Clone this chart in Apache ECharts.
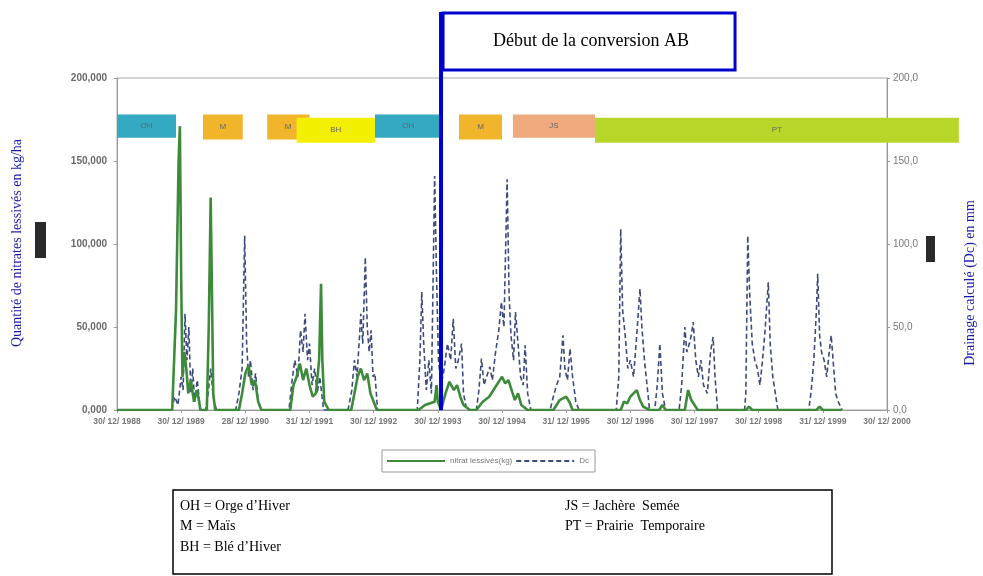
<!DOCTYPE html>
<html><head><meta charset="utf-8">
<script src="https://cdn.jsdelivr.net/npm/echarts@6/dist/echarts.min.js"></script>
<style>html,body{margin:0;padding:0;background:#fff}#c{width:983px;height:576px}</style>
</head><body><div id="c"></div>
<script>
// ---- data ----
const tickLabels = ["30/ 12/ 1988","30/ 12/ 1989","28/ 12/ 1990","31/ 12/ 1991","30/ 12/ 1992","30/ 12/ 1993","30/ 12/ 1994","31/ 12/ 1995","30/ 12/ 1996","30/ 12/ 1997","30/ 12/ 1998","31/ 12/ 1999","30/ 12/ 2000"];
// t = years since 30/12/1988, value in kg/ha
const nitrate = [[0,0],[0.86,0],[0.92,60],[0.96,150],[0.98,171],[1.0,80],[1.02,20],[1.05,35],[1.08,25],[1.11,10],[1.15,18],[1.2,5],[1.25,12],[1.3,0],[1.4,0],[1.43,50],[1.46,128],[1.48,70],[1.5,10],[1.53,0],[1.9,0],[1.95,10],[2.0,22],[2.05,27],[2.1,15],[2.15,18],[2.2,5],[2.25,0],[2.7,0],[2.75,15],[2.8,20],[2.85,28],[2.9,18],[2.95,25],[3.0,15],[3.05,8],[3.1,10],[3.15,30],[3.18,76],[3.2,30],[3.23,5],[3.3,0],[3.65,0],[3.7,10],[3.75,20],[3.8,25],[3.85,18],[3.9,22],[3.95,10],[4.0,5],[4.05,0],[4.7,0],[4.8,3],[4.95,5],[4.98,15],[5.0,5],[5.05,0],[5.12,10],[5.18,17],[5.25,12],[5.3,15],[5.35,8],[5.4,3],[5.5,0],[5.6,0],[5.7,5],[5.8,8],[5.9,14],[5.95,17],[6.0,20],[6.05,16],[6.1,18],[6.15,12],[6.2,6],[6.25,10],[6.3,3],[6.4,0],[6.8,0],[6.9,6],[7.0,8],[7.05,5],[7.1,0],[7.85,0],[7.9,5],[7.95,4],[8.0,8],[8.05,10],[8.1,12],[8.15,6],[8.2,2],[8.3,0],[8.45,0],[8.5,3],[8.55,0],[8.85,0],[8.9,12],[8.95,6],[9.0,3],[9.05,0],[9.8,0],[9.85,2],[9.9,0],[10.9,0],[10.95,2],[11.0,0],[11.3,0]];
// drainage Dc in mm
const drainage = [[0.85,0],[0.9,8],[0.95,3],[1.0,20],[1.03,12],[1.06,58],[1.09,30],[1.12,50],[1.15,10],[1.18,25],[1.21,5],[1.25,18],[1.3,0],[1.38,0],[1.42,10],[1.46,25],[1.5,8],[1.55,0],[1.85,0],[1.9,10],[1.95,25],[1.99,105],[2.02,40],[2.05,20],[2.08,30],[2.12,12],[2.16,22],[2.2,5],[2.25,0],[2.68,0],[2.72,15],[2.77,30],[2.82,20],[2.86,48],[2.9,35],[2.93,58],[2.97,30],[3.0,40],[3.04,15],[3.08,25],[3.12,10],[3.16,20],[3.22,0],[3.6,0],[3.66,12],[3.7,30],[3.74,20],[3.78,45],[3.8,58],[3.83,40],[3.87,92],[3.9,50],[3.93,35],[3.96,48],[3.99,20],[4.02,22],[4.06,0],[4.68,0],[4.72,30],[4.75,71],[4.78,40],[4.82,12],[4.86,30],[4.9,10],[4.95,141],[4.98,80],[5.01,30],[5.05,15],[5.1,25],[5.15,40],[5.2,30],[5.24,55],[5.28,25],[5.32,30],[5.37,40],[5.4,10],[5.45,0],[5.6,0],[5.64,12],[5.68,31],[5.72,15],[5.76,20],[5.81,26],[5.85,18],[5.9,35],[5.95,48],[5.99,65],[6.03,50],[6.08,139],[6.11,70],[6.14,45],[6.18,30],[6.21,59],[6.25,40],[6.29,20],[6.33,15],[6.36,39],[6.4,10],[6.45,0],[6.75,0],[6.8,8],[6.85,15],[6.9,20],[6.95,45],[6.98,25],[7.02,18],[7.06,37],[7.1,20],[7.15,5],[7.2,0],[7.78,0],[7.82,20],[7.85,109],[7.88,60],[7.92,45],[7.96,25],[8.0,30],[8.05,20],[8.1,45],[8.15,73],[8.18,50],[8.22,30],[8.26,15],[8.3,0],[8.38,0],[8.42,15],[8.46,40],[8.5,10],[8.55,0],[8.76,0],[8.8,15],[8.85,50],[8.88,35],[8.92,40],[8.95,45],[8.98,53],[9.02,30],[9.06,20],[9.1,30],[9.14,15],[9.2,10],[9.25,35],[9.29,44],[9.32,20],[9.36,0],[9.78,0],[9.8,10],[9.83,105],[9.86,70],[9.9,40],[9.94,30],[9.98,25],[10.02,15],[10.06,30],[10.1,48],[10.15,77],[10.18,40],[10.22,20],[10.26,10],[10.3,0],[10.78,0],[10.82,12],[10.86,30],[10.9,60],[10.92,82],[10.95,45],[10.98,35],[11.02,30],[11.06,20],[11.1,35],[11.13,45],[11.16,30],[11.2,10],[11.24,5],[11.3,0]];
const cropCode  = ["OH","M","M","BH","OH","M","JS","PT"];
const cropStart = [0, 1.34, 2.34, 2.80, 4.02, 5.33, 6.17, 7.45];
const cropEnd   = [0.92, 1.96, 3.0, 4.02, 5.06, 6.00, 7.45, 13.12];
const conversionT = 5.05;

// ---- styles ----
const cropColor = {OH:'#33a9c2', M:'#f1b52c', BH:'#f3ef00', JS:'#eeaa7c', PT:'#b6d62a'};
const cropBand  = {OH:[164,178], M:[163,178], BH:[161,176], JS:[164,178], PT:[161,176]};
const tickFont = {fontFamily:'Liberation Sans', fontSize:10, fontWeight:'bold', color:'#6a6a6a'};

const chart = echarts.init(document.getElementById('c'), null, {renderer:'canvas'});
chart.setOption({
  animation:false,
  backgroundColor:'#ffffff',
  grid:{left:117, right:96, top:78, bottom:166, show:true, borderColor:'#aaa', borderWidth:1, backgroundColor:'transparent'},
  legend:{
    left:382, top:450, padding:[7,6,7,4], borderColor:'#999', borderWidth:1, itemWidth:58, itemHeight:8, itemGap:3,
    itemStyle:{opacity:0},
    textStyle:{fontFamily:'Liberation Sans', fontSize:8, color:'#777'},
    data:['nitrat lessivés(kg)','Dc']
  },
  xAxis:{type:'value', min:0, max:12, interval:1,
    axisLine:{lineStyle:{color:'#999'}}, axisTick:{show:true, length:3, lineStyle:{color:'#999'}},
    splitLine:{show:false},
    axisLabel:Object.assign({margin:7, formatter:v=>tickLabels[Math.round(v)]||''}, tickFont, {fontSize:8.5, color:'#777'})
  },
  yAxis:[
    {type:'value', min:0, max:200, interval:50, position:'left',
      axisLine:{show:true, lineStyle:{color:'#999'}}, axisTick:{show:true, length:3, lineStyle:{color:'#999'}},
      splitLine:{show:false},
      axisLabel:Object.assign({margin:10, formatter:v=>v.toFixed(3).replace('.',',')}, tickFont)},
    {type:'value', min:0, max:200, interval:50, position:'right',
      axisLine:{show:true, lineStyle:{color:'#999'}}, axisTick:{show:true, length:3, lineStyle:{color:'#999'}},
      splitLine:{show:false},
      axisLabel:Object.assign({margin:6, formatter:v=>v.toFixed(1).replace('.',',')}, tickFont, {fontWeight:'normal', color:'#777'})}
  ],
  series:[
    {name:'Dc', type:'line', yAxisIndex:1, data:drainage, showSymbol:false, symbol:'none',
      lineStyle:{color:'#3d4a7c', width:1.6, type:[5,3]}, itemStyle:{color:'#3d4a7c'}, z:3},
    {name:'nitrat lessivés(kg)', type:'line', yAxisIndex:0, data:nitrate, showSymbol:false, symbol:'none',
      lineStyle:{color:'#3d8a3a', width:2.6}, itemStyle:{color:'#3d8a3a'}, z:4},
    {name:'crops', type:'custom', yAxisIndex:0, clip:false, z:5,
      data:cropStart.map((s,i)=>[s, cropEnd[i], i]),
      encode:{x:[0,1]},
      renderItem:function(params, api){
        const i = api.value(2); const code = cropCode[i]; const band = cropBand[code];
        const p0 = api.coord([api.value(0), band[1]]);
        const p1 = api.coord([api.value(1), band[0]]);
        const cx = code==='M' && i===2 ? p0[0]+21 : (p0[0]+p1[0])/2;
        return {type:'group', children:[
          {type:'rect', shape:{x:p0[0], y:p0[1], width:p1[0]-p0[0], height:p1[1]-p0[1]}, style:{fill:cropColor[code]}},
          {type:'text', style:{text:code, x:cx, y:(p0[1]+p1[1])/2, align:'center', verticalAlign:'middle', fill:'#666', font:'8px Liberation Sans'}}
        ]};
      }
    }
  ]
});

const cx = chart.convertToPixel({xAxisIndex:0}, conversionT);
chart.setOption({graphic:[
  {type:'line', shape:{x1:cx, y1:12, x2:cx, y2:410}, style:{stroke:'#0000cc', lineWidth:4}, z:100},
  {type:'rect', shape:{x:cx+2, y:13, width:292, height:57}, style:{fill:'#fff', stroke:'#0000cc', lineWidth:3}, z:99},
  {type:'text', x:cx+150, y:41, style:{text:'Début de la conversion AB', font:'18px Liberation Serif', fill:'#000', align:'center', verticalAlign:'middle'}, z:101},
  {type:'text', x:17, y:243, rotation:Math.PI/2, style:{text:'Quantité de nitrates lessivés en kg/ha', font:'14px Liberation Serif', fill:'#1a1aa8', align:'center', verticalAlign:'middle'}},
  {type:'text', x:970, y:283, rotation:Math.PI/2, style:{text:'Drainage calculé (Dc) en mm', font:'14px Liberation Serif', fill:'#1a1aa8', align:'center', verticalAlign:'middle'}},
  {type:'rect', shape:{x:35, y:222, width:11, height:36}, style:{fill:'#2a2a2a'}},
  {type:'rect', shape:{x:926, y:236, width:9, height:26}, style:{fill:'#2a2a2a'}},
  {type:'rect', shape:{x:173, y:490, width:659, height:84}, style:{fill:'#fff', stroke:'#000', lineWidth:1.5}},
  {type:'text', x:180, y:506, style:{text:'OH = Orge d\u2019Hiver', font:'14px Liberation Serif', fill:'#000', verticalAlign:'middle'}},
  {type:'text', x:180, y:526, style:{text:'M = Maïs', font:'14px Liberation Serif', fill:'#000', verticalAlign:'middle'}},
  {type:'text', x:180, y:547, style:{text:'BH = Blé d\u2019Hiver', font:'14px Liberation Serif', fill:'#000', verticalAlign:'middle'}},
  {type:'text', x:565, y:506, style:{text:'JS = Jachère  Semée', font:'14px Liberation Serif', fill:'#000', verticalAlign:'middle'}},
  {type:'text', x:565, y:526, style:{text:'PT = Prairie  Temporaire', font:'14px Liberation Serif', fill:'#000', verticalAlign:'middle'}}
]});
</script></body></html>
